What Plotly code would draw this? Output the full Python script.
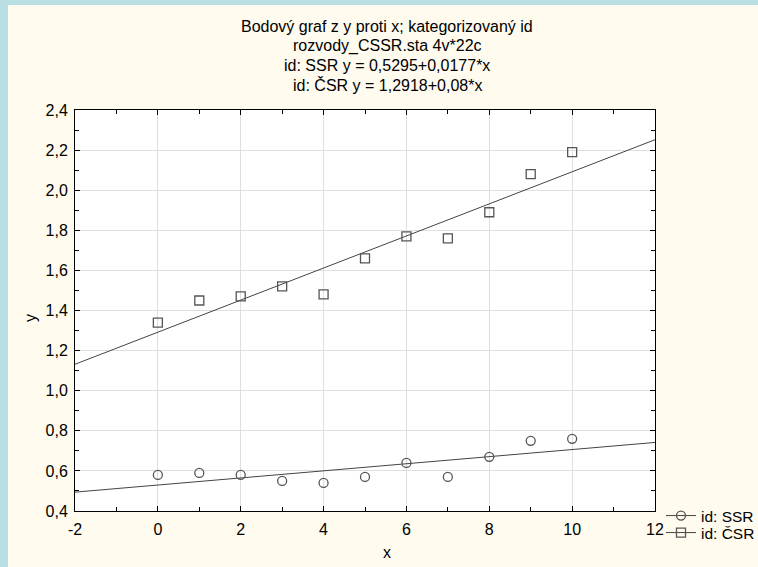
import plotly.graph_objects as go

x_vals = [0, 1, 2, 3, 4, 5, 6, 7, 8, 9, 10]
y_ssr = [0.58, 0.59, 0.58, 0.55, 0.54, 0.57, 0.64, 0.57, 0.67, 0.75, 0.76]
y_csr = [1.34, 1.45, 1.47, 1.52, 1.48, 1.66, 1.77, 1.76, 1.89, 2.08, 2.19]
fit_ssr = (0.5295, 0.0177)
fit_csr = (1.2918, 0.08)
x_range = [-2, 12]
y_range = [0.4, 2.4]
x_ticks = [-2, 0, 2, 4, 6, 8, 10, 12]
y_ticks = [0.4, 0.6, 0.8, 1.0, 1.2, 1.4, 1.6, 1.8, 2.0, 2.2, 2.4]
y_tick_labels = ["0,4", "0,6", "0,8", "1,0", "1,2", "1,4", "1,6", "1,8", "2,0", "2,2", "2,4"]
names = ["id: SSR", "id: ČSR"]
title_lines = ["Bodový graf z y proti x; kategorizovaný id",
               "rozvody_CSSR.sta 4v*22c",
               "id: SSR y = 0,5295+0,0177*x",
               "id: ČSR y = 1,2918+0,08*x"]

FONT = "Liberation Sans, Arial, sans-serif"
FS = 16
MARK = "#555555"
LINE = "#444444"
BLUE = "#B9DFE4"
CREAM = "#FFFBEF"

L, R, T, B = 75, 103, 110, 56
W, H = 758, 567
pw, ph = W - L - R, H - T - B


def px2x(p):
    return (p - L) / pw


def py2y(p):
    return (H - B - p) / ph


fig = go.Figure()
legend_ids = ["legend", "legend2"]
for name, ys, fit, sym, lid in [(names[0], y_ssr, fit_ssr, "circle-open", legend_ids[0]),
                                (names[1], y_csr, fit_csr, "square-open", legend_ids[1])]:
    a, b = fit
    fig.add_trace(go.Scatter(x=x_range, y=[a + b * x for x in x_range], mode="lines",
                             line=dict(color=LINE, width=1), showlegend=False, hoverinfo="skip"))
    fig.add_trace(go.Scatter(x=x_vals, y=ys, mode="markers", showlegend=False,
                             marker=dict(symbol=sym, size=9, color=MARK, line=dict(width=1.3, color=MARK))))
    fig.add_trace(go.Scatter(x=[None], y=[None], mode="lines+markers", name=name, legend=lid,
                             line=dict(color=LINE, width=1),
                             marker=dict(symbol=sym, size=9, color=MARK, line=dict(width=1.3, color=MARK))))

axis_common = dict(showline=True, linecolor="black", linewidth=1, mirror="ticks",
                   ticks="inside", ticklen=5, tickcolor="black",
                   showgrid=True, gridcolor="#DEDEDE", gridwidth=1, zeroline=False,
                   tickfont=dict(family=FONT, size=FS, color="black"))

legend_common = dict(xanchor="left", yanchor="middle", bgcolor="rgba(0,0,0,0)", borderwidth=0,
                     font=dict(family=FONT, size=15.5, color="black"), itemwidth=30)

title_ys = [27, 46, 65.5, 84.5]
annotations = [dict(text=t, xref="paper", yref="paper", x=px2x(387), y=py2y(yy), showarrow=False,
                    xanchor="center", yanchor="middle", font=dict(family=FONT, size=16, color="black"))
               for t, yy in zip(title_lines, title_ys)]
annotations += [
    dict(text="x", xref="paper", yref="paper", x=px2x(387), y=py2y(552), showarrow=False,
         xanchor="center", yanchor="middle", font=dict(family=FONT, size=FS, color="black")),
    dict(text="y", xref="paper", yref="paper", x=px2x(30), y=py2y(318), showarrow=False,
         textangle=-90, xanchor="center", yanchor="middle", font=dict(family=FONT, size=FS, color="black")),
]

fig.update_layout(
    width=W, height=H,
    margin=dict(l=L, r=R, t=T, b=B, autoexpand=False),
    paper_bgcolor=CREAM, plot_bgcolor="white",
    font=dict(family=FONT, size=FS, color="black"),
    xaxis=dict(range=x_range, tickvals=x_ticks, ticktext=[str(t) for t in x_ticks],
               ticklabelstandoff=4,
               minor=dict(dtick=1, ticks="inside", ticklen=4, tickcolor="black", showgrid=False),
               **axis_common),
    yaxis=dict(range=y_range, tickvals=y_ticks, ticktext=y_tick_labels,
               ticklabelstandoff=3,
               minor=dict(dtick=0.1, ticks="inside", ticklen=4, tickcolor="black", showgrid=False),
               **axis_common),
    legend=dict(x=px2x(661), y=py2y(516), **legend_common),
    legend2=dict(x=px2x(661), y=py2y(533), **legend_common),
    showlegend=True,
    shapes=[
        dict(type="rect", xref="paper", yref="paper", x0=px2x(0), x1=px2x(8), y0=py2y(H), y1=py2y(0),
             fillcolor=BLUE, line=dict(width=0), layer="below"),
        dict(type="rect", xref="paper", yref="paper", x0=px2x(0), x1=px2x(W), y0=py2y(5), y1=py2y(0),
             fillcolor=BLUE, line=dict(width=0), layer="below"),
    ],
    annotations=annotations,
)

fig.write_html("out.html", config={"displayModeBar": False},
               post_script="document.body.style.margin='0px';")
